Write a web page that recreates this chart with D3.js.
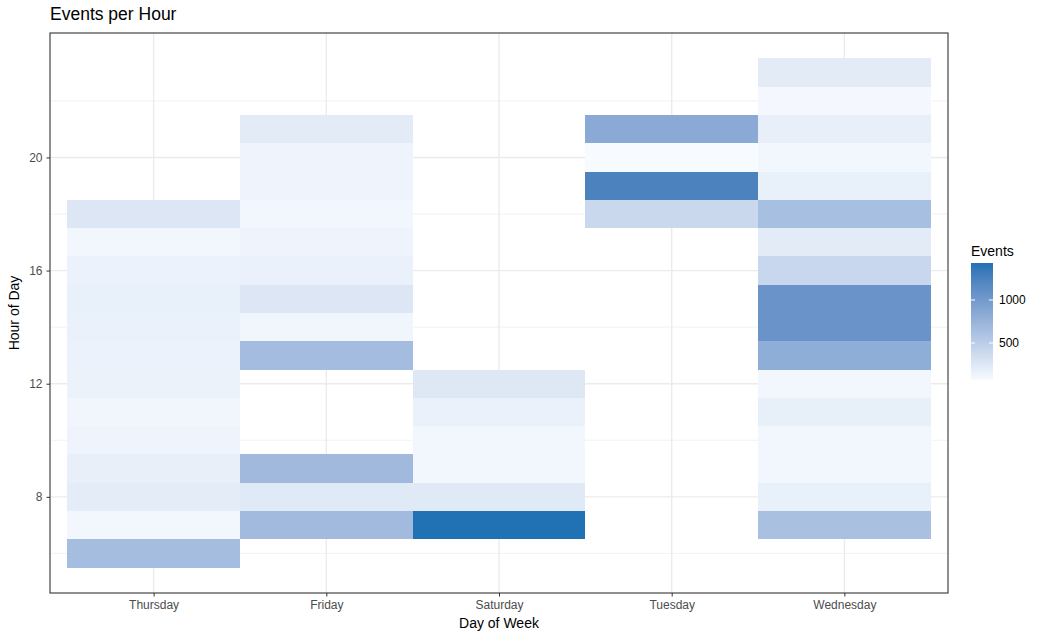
<!DOCTYPE html>
<html>
<head>
<meta charset="utf-8">
<script src="https://cdn.jsdelivr.net/npm/d3@7"></script>
<style>
  body { margin: 0; background: #fff; }
  text { font-family: "Liberation Sans", Arial, sans-serif; fill: #000; }
</style>
</head>
<body>
<div id="chart"></div>
<script>
// days in the order they show on the x axis
var days = ["Thursday", "Friday", "Saturday", "Tuesday", "Wednesday"];

// hours and event counts per day
var thursdayHours  = [6, 7, 8, 9, 10, 11, 12, 13, 14, 15, 16, 17, 18];
var thursdayEvents = [655, 110, 210, 180, 130, 115, 155, 150, 160, 175, 150, 110, 265];

var fridayHours  = [7, 8, 9, 13, 14, 15, 16, 17, 18, 19, 20, 21];
var fridayEvents = [685, 235, 695, 665, 115, 260, 160, 130, 110, 130, 130, 215];

var saturdayHours  = [7, 8, 9, 10, 11, 12];
var saturdayEvents = [1430, 235, 105, 105, 160, 250];

var tuesdayHours  = [18, 19, 20, 21];
var tuesdayEvents = [400, 1240, 70, 845];

var wednesdayHours  = [7, 8, 9, 10, 11, 12, 13, 14, 15, 16, 17, 18, 19, 20, 21, 22, 23];
var wednesdayEvents = [630, 175, 105, 105, 185, 110, 815, 1060, 1060, 410, 215, 640, 175, 110, 180, 95, 215];

var yTicks = [8, 12, 16, 20];
var yMinor = [6, 10, 14, 18, 22];
var legendTicks = [500, 1000];

var byDay = {
  Thursday: [thursdayHours, thursdayEvents],
  Friday: [fridayHours, fridayEvents],
  Saturday: [saturdayHours, saturdayEvents],
  Tuesday: [tuesdayHours, tuesdayEvents],
  Wednesday: [wednesdayHours, wednesdayEvents]
};

var cells = [];
days.forEach(function(day) {
  var h = byDay[day][0], e = byDay[day][1];
  h.forEach(function(hr, i) { cells.push({day: day, hour: hr, events: e[i]}); });
});

var width = 1043, height = 639;
var margin = {top: 33, right: 95, bottom: 46, left: 50};
var pw = width - margin.left - margin.right;
var ph = height - margin.top - margin.bottom;

var svg = d3.select("#chart").append("svg")
    .attr("width", width)
    .attr("height", height);

var g = svg.append("g")
    .attr("transform", "translate(" + margin.left + "," + margin.top + ")");

// discrete x with ggplot-like 0.6 expansion
var x = d3.scalePoint()
    .domain(days)
    .range([0, pw])
    .padding(0.6);
var step = x.step();

var yLo = d3.min(cells, function(d) { return d.hour; }) - 0.5;
var yHi = d3.max(cells, function(d) { return d.hour; }) + 0.5;
var yPad = (yHi - yLo) * 0.05;
var y = d3.scaleLinear()
    .domain([yLo - yPad, yHi + yPad])
    .range([ph, 0]);

var extent = d3.extent(cells, function(d) { return d.events; });
var color = d3.scaleLinear()
    .domain(extent)
    .range(["#f7fbff", "#2171b5"])
    .interpolate(d3.interpolateLab);

// grid
g.selectAll(".minor").data(yMinor).enter().append("line")
    .attr("x1", 0).attr("x2", pw)
    .attr("y1", function(d) { return y(d); }).attr("y2", function(d) { return y(d); })
    .style("stroke", "#f2f2f2").style("stroke-width", 1);
g.selectAll(".major").data(yTicks).enter().append("line")
    .attr("x1", 0).attr("x2", pw)
    .attr("y1", function(d) { return y(d); }).attr("y2", function(d) { return y(d); })
    .style("stroke", "#ebebeb").style("stroke-width", 1.4);
g.selectAll(".vmajor").data(days).enter().append("line")
    .attr("y1", 0).attr("y2", ph)
    .attr("x1", function(d) { return x(d); }).attr("x2", function(d) { return x(d); })
    .style("stroke", "#ebebeb").style("stroke-width", 1.4);

// tiles
g.selectAll("rect.tile").data(cells).enter().append("rect")
    .attr("class", "tile")
    .attr("x", function(d) { return x(d.day) - step / 2; })
    .attr("y", function(d) { return y(d.hour + 0.5); })
    .attr("width", step)
    .attr("height", function(d) { return y(d.hour - 0.5) - y(d.hour + 0.5); })
    .style("fill", function(d) { return color(d.events); })
    .style("shape-rendering", "crispEdges");

// panel border
g.append("rect")
    .attr("width", pw).attr("height", ph)
    .style("fill", "none").style("stroke", "#333333").style("stroke-width", 1.1);

// axes
var xAxis = g.append("g")
    .attr("transform", "translate(0," + ph + ")")
    .call(d3.axisBottom(x).tickSizeOuter(0).tickSize(3.5).tickPadding(4));
var yAxis = g.append("g")
    .call(d3.axisLeft(y).tickValues(yTicks).tickSizeOuter(0).tickSize(3.5).tickPadding(4));
[xAxis, yAxis].forEach(function(a) {
  a.select(".domain").remove();
  a.selectAll("line").style("stroke", "#333333");
  a.selectAll("text").style("fill", "#4d4d4d").style("font-size", "12px")
      .style("font-family", "Liberation Sans, Arial, sans-serif");
});

// titles
svg.append("text")
    .attr("x", margin.left).attr("y", 20)
    .style("font-size", "17.5px")
    .text("Events per Hour");
svg.append("text")
    .attr("x", margin.left + pw / 2).attr("y", 628)
    .attr("text-anchor", "middle")
    .style("font-size", "14px")
    .text("Day of Week");
svg.append("text")
    .attr("transform", "translate(19," + (margin.top + ph / 2) + ") rotate(-90)")
    .attr("text-anchor", "middle")
    .style("font-size", "14px")
    .text("Hour of Day");

// legend
var lx = 971, ly = 263, lw = 22, lh = 117;
var defs = svg.append("defs");
var grad = defs.append("linearGradient")
    .attr("id", "lg").attr("x1", "0").attr("y1", "1").attr("x2", "0").attr("y2", "0");
d3.range(0, 1.0001, 0.1).forEach(function(t) {
  grad.append("stop").attr("offset", t)
      .attr("stop-color", color(extent[0] + t * (extent[1] - extent[0])));
});
var leg = svg.append("g");
leg.append("text")
    .attr("x", lx).attr("y", ly - 7)
    .style("font-size", "14px")
    .text("Events");
leg.append("rect")
    .attr("x", lx).attr("y", ly).attr("width", lw).attr("height", lh)
    .style("fill", "url(#lg)");
var ls = d3.scaleLinear().domain(extent).range([ly + lh, ly]);
legendTicks.forEach(function(v) {
  leg.append("line").attr("x1", lx).attr("x2", lx + 4)
      .attr("y1", ls(v)).attr("y2", ls(v)).style("stroke", "#fff");
  leg.append("line").attr("x1", lx + lw - 4).attr("x2", lx + lw)
      .attr("y1", ls(v)).attr("y2", ls(v)).style("stroke", "#fff");
  leg.append("text")
      .attr("x", lx + lw + 6).attr("y", ls(v))
      .attr("dy", "0.35em")
      .style("font-size", "12px")
      .style("fill", "#000")
      .text(v);
});
</script>
</body>
</html>
